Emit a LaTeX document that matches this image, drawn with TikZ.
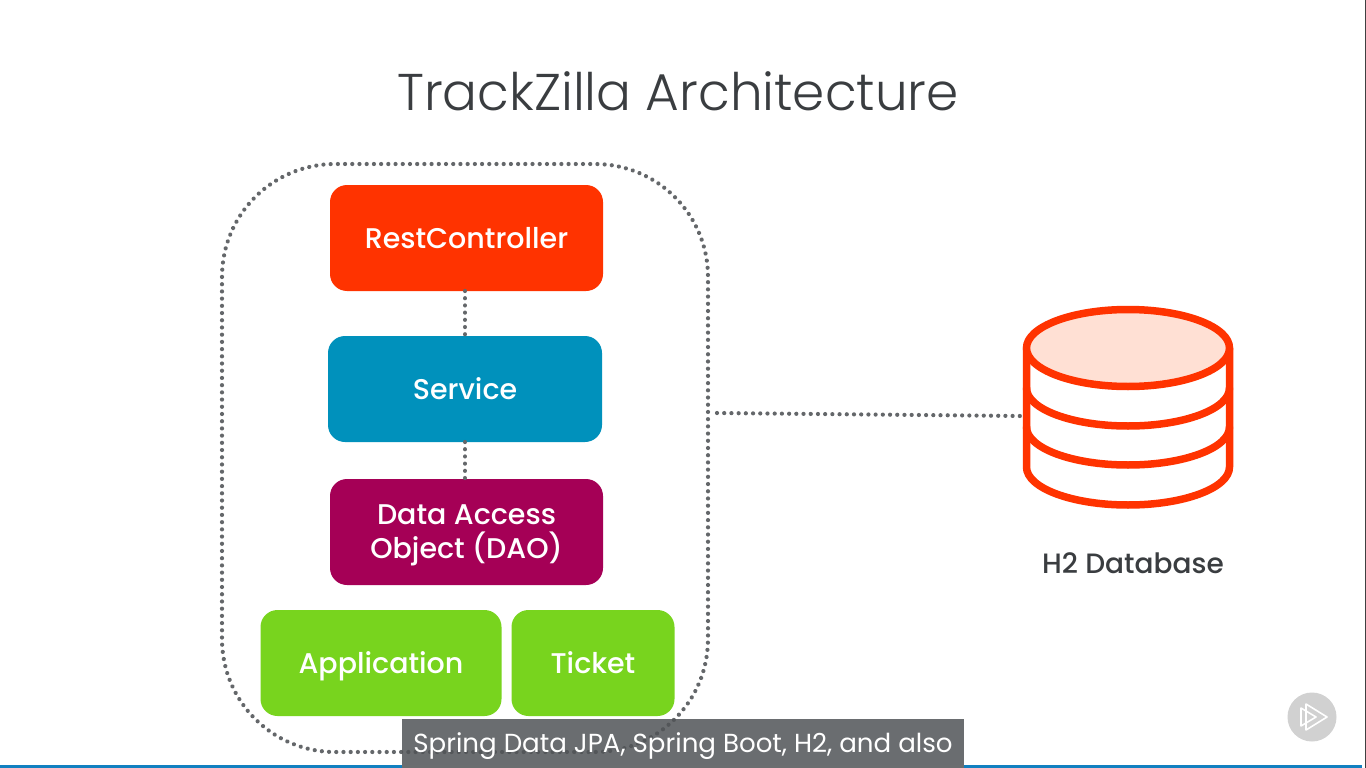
\documentclass[tikz,border=0pt]{standalone}
\usepackage{fontspec}
\setmainfont{Poppins}
\newfontfamily\titlefont[UprightFont=* Light]{Poppins}
\newfontfamily\boxfont[UprightFont=* Medium]{Poppins}
\usetikzlibrary{shapes.geometric}
\definecolor{cred}{HTML}{FF3300}
\definecolor{cblue}{HTML}{0091BC}
\definecolor{cpurple}{HTML}{A50056}
\definecolor{cgreen}{HTML}{78D41E}
\definecolor{cdot}{HTML}{64676A}
\definecolor{ctop}{HTML}{FFE0D4}
\definecolor{ccap}{HTML}{515457}
\definecolor{ccapsolid}{HTML}{6B6E70}
\definecolor{cbar}{HTML}{1280C0}
\definecolor{ctitle}{HTML}{3A3D40}
\tikzset{
  x=1pt,y=-1pt,
  dotline/.style={draw=cdot,line width=4.2pt,line cap=round,dash pattern=on 0.01pt off 7.2pt},
  blockbox/.style={rectangle,rounded corners=17pt,minimum height=106pt,inner sep=0pt,text=white,align=center,
     font=\boxfont\fontsize{28.5}{34}\selectfont},
  oneline/.style={text height=20pt,text depth=0pt},
  dbline/.style={draw=cred,line width=7.5pt,line cap=round,line join=round},
}
\begin{document}
\begin{tikzpicture}
\useasboundingbox (0,0) rectangle (1366,768);
\fill[white] (0,0) rectangle (1366,768);
\fill[cbar] (0,765) rectangle (1362,768);
\fill[black!75] (1365,0) rectangle (1366,768);
\node[text=ctitle,font=\titlefont\fontsize{51.7}{60}\selectfont,anchor=center] (title) at (678,91) {TrackZilla Architecture};
\draw[dotline,rounded corners=113pt] (222,164) rectangle (708,752);
\node[blockbox,oneline,fill=cred,minimum width=273pt] (rest) at (466.5,238) {RestController};
\node[blockbox,oneline,fill=cblue,minimum width=274pt] (service) at (465,389) {Service};
\node[blockbox,text depth=0pt,fill=cpurple,minimum width=273pt] (dao) at (466.5,532) {Data Access\\Object (DAO)};
\node[blockbox,oneline,fill=cgreen,minimum width=241pt] (app) at (381,663) {Application};
\node[blockbox,oneline,fill=cgreen,minimum width=163pt] (ticket) at (593,663) {Ticket};
\draw[dotline] (465,291) -- (465,336);
\draw[dotline] (465,442) -- (465,479);
\coordinate (gright) at (717,413);
\coordinate (dbleft) at (1020,416);
\draw[dotline] (gright) -- (dbleft);
% database
\draw[dbline] (1026.5,348) -- (1026.5,467) arc[start angle=180,end angle=360,x radius=101.5pt,y radius=38pt] -- (1229.5,348);
\draw[dbline] (1026.5,388) arc[start angle=180,end angle=360,x radius=101.5pt,y radius=38pt];
\draw[dbline] (1026.5,427) arc[start angle=180,end angle=360,x radius=101.5pt,y radius=38pt];
\draw[dbline,fill=ctop] (1128,348) ellipse[x radius=101.5pt,y radius=38.5pt];
\node[text=ctitle,font=\boxfont\fontsize{28}{30}\selectfont] (dblabel) at (1133,563) {H2 Database};
% play badge
\fill[black!18] (1312,717) circle[radius=24.5pt];
\draw[white,line width=1.6pt,line join=round] (1301,708) -- (1301,726) -- (1316,717) -- cycle;
\draw[white,line width=1.6pt,line join=round] (1306,704) -- (1306,730) -- (1327,717) -- cycle;
% caption
\fill[ccap,fill opacity=.85] (402,719) rectangle (964,765);
\fill[ccapsolid] (402,765) rectangle (964,768);
\node[text=white,font=\fontsize{26.1}{30}\selectfont,anchor=center] (cap) at (683,746) {Spring Data JPA, Spring Boot, H2, and also};
\end{tikzpicture}
\end{document}
